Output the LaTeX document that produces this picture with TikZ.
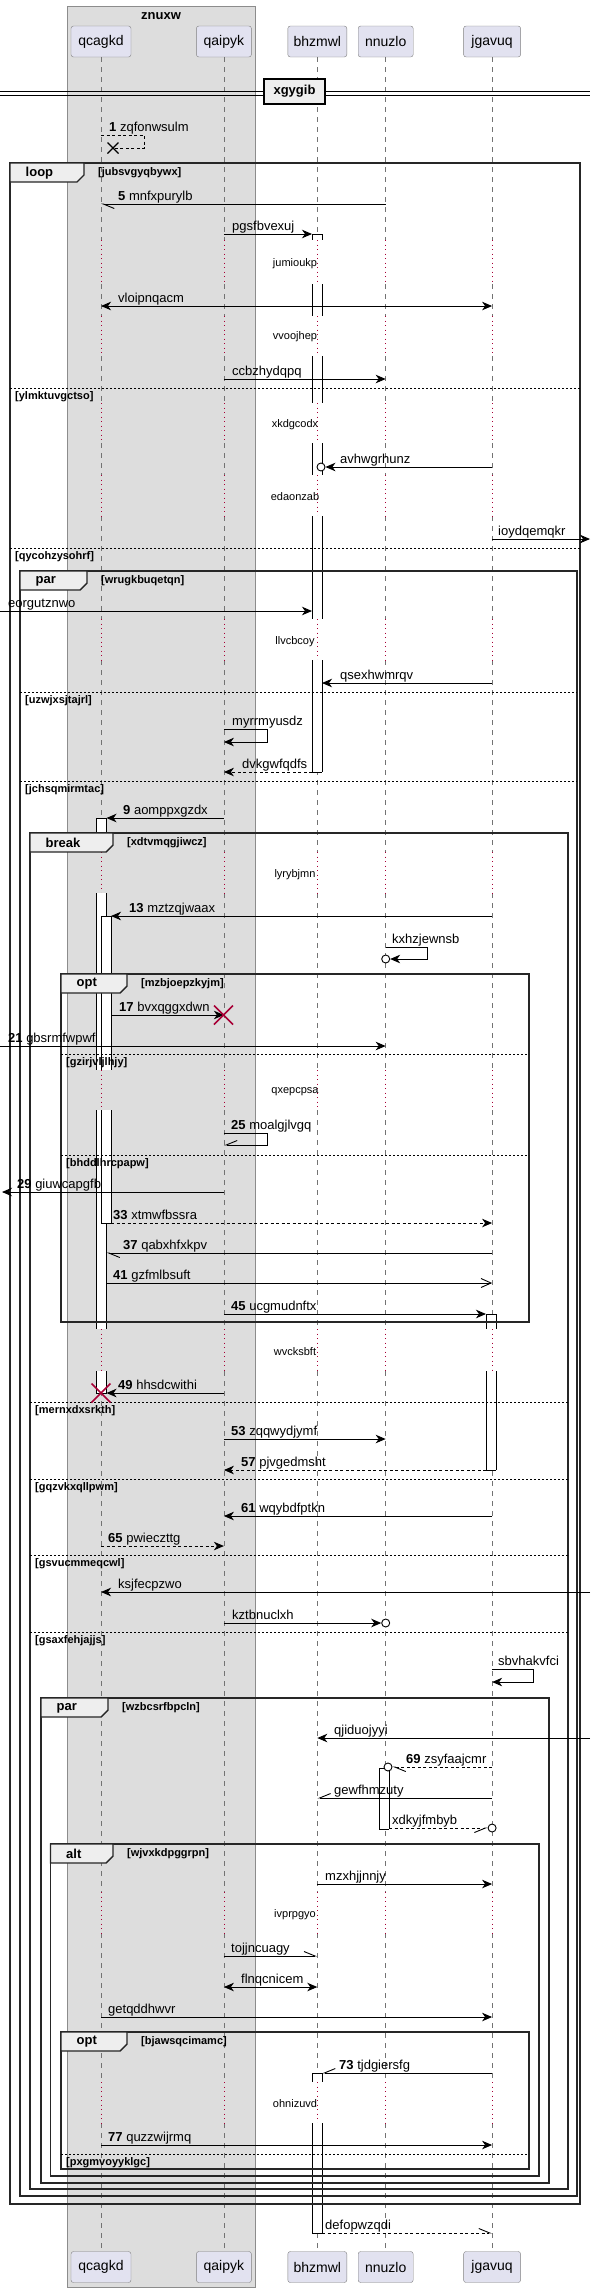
\documentclass[tikz,border=0pt]{standalone}
\usepackage{fontspec}
\setmainfont{Liberation Sans}
\usetikzlibrary{arrows.meta,positioning}
\definecolor{partfill}{HTML}{E2E2F0}
\definecolor{boxfill}{HTML}{DDDDDD}
\definecolor{tabfill}{HTML}{EEEEEE}
\definecolor{delayred}{HTML}{A80036}

\begin{document}
\begin{tikzpicture}[x=1pt,y=-1pt,>={Stealth[length=10pt,width=8.5pt,inset=3pt]}]
    \tikzstyle{every node} = [font=\fontsize{13}{15}\selectfont, inner sep=0pt]
    \tikzstyle{actor} = [draw=black!50, fill=partfill, rounded corners=2.5pt, minimum height=31pt, font=\fontsize{14}{16}\selectfont]
    \tikzstyle{life} = [black!55, dash pattern=on 5pt off 5pt, line width=0.6pt]
    \tikzstyle{delayline} = [delayred, dash pattern=on 1pt off 3.5pt, line width=0.8pt]
    \tikzstyle{delaytext} = [font=\fontsize{11}{13}\selectfont]
    \tikzstyle{msg} = [line width=0.9pt, ->]
    \tikzstyle{rtn} = [msg, dash pattern=on 3pt off 2.5pt]
    \tikzstyle{twoway} = [line width=0.9pt, <->]
    \tikzstyle{halfL} = [-{Straight Barb[left,length=11pt,width=9pt]}]
    \tikzstyle{halfR} = [-{Straight Barb[right,length=11pt,width=9pt]}]
    \tikzstyle{openhead} = [-{Straight Barb[length=10pt,width=9pt]}]
    \tikzstyle{lbl} = [anchor=base west]
    \tikzstyle{frm} = [line width=1.4pt, black!85]
    \tikzstyle{tabshape} = [line width=1.4pt, black!85, fill=tabfill]
    \tikzstyle{tabtext} = [anchor=west, font=\bfseries\fontsize{13}{15}\selectfont]
    \tikzstyle{cond} = [anchor=west, font=\bfseries\fontsize{11}{13}\selectfont]
    \tikzstyle{elseline} = [line width=0.8pt, dash pattern=on 2pt off 2pt]
    \tikzstyle{barside} = [line width=0.9pt]
    \tikzstyle{endc} = [circle, draw, fill=white, line width=0.9pt, minimum size=8pt]
    \tikzstyle{killx} = [delayred, line width=1.6pt]

    \useasboundingbox (0,0) rectangle (590,2292);

    % group box
    \draw[draw=black!45, fill=boxfill] (67,6) rectangle (255,2287);
    \node[font=\bfseries\fontsize{13}{15}\selectfont] (grp) at (161,16) {znuxw};

    % place nodes
    \node[actor, minimum width=60pt] (qcagkd) at (101,41.5) {qcagkd};
    \node[actor, minimum width=55pt, right=65pt of qcagkd] (qaipyk) {qaipyk};
    \node[actor, minimum width=59pt, right=36pt of qaipyk] (bhzmwl) {bhzmwl};
    \node[actor, minimum width=55pt, right=11pt of bhzmwl] (nnuzlo) {nnuzlo};
    \node[actor, minimum width=57pt, right=50pt of nnuzlo] (jgavuq) {jgavuq};
    \foreach \p/\w in {qcagkd/60,qaipyk/55,bhzmwl/59,nnuzlo/55,jgavuq/57}
        \node[actor, minimum width=\w pt] (\p B) at (\p |- 0,2267) {\p};

    % edges and bar sides
    \coordinate (lft) at (0,0);
    \coordinate (rgt) at (590,0);
    \coordinate (bhL) at (312,0);
    \coordinate (bhR) at (322,0);
    \coordinate (qcR1) at (106.5,0);
    \coordinate (qcR2) at (111,0);
    \coordinate (jgL) at (486,0);
    \coordinate (nnR) at (389,0);

    % lifelines
    \foreach \p in {qcagkd,qaipyk,bhzmwl,nnuzlo,jgavuq}{
        \foreach \a/\b in {57/240,284/316,356/403,443/475,516/619,660/852,893/1070,1110/1329,1371/1892,1933/2082,2123/2251}
            \draw[life] (\p |- 0,\a) -- (\p |- 0,\b);
        \foreach \a/\b in {240/284,316/356,403/443,475/516,619/660,852/893,1070/1110,1329/1371,1892/1933,2082/2123}
            \draw[delayline] (\p |- 0,\a) -- (\p |- 0,\b);
    }
    \foreach \t/\y in {jumioukp/264,vvoojhep/337,xkdgcodx/425,edaonzab/497,llvcbcoy/642,lyrybjmn/875,qxepcpsa/1092,wvcksbft/1352,ivprpgyo/1915,ohnizuvd/2104}
        \node[delaytext] (d\t) at (295,\y) {\t};

    % activation bars
    \foreach \xa/\xb/\a/\b in {312/322/234/240, 312/322/284/316, 312/322/356/403, 312/322/443/475, 312/322/516/619, 312/322/660/772,
        96/106.5/818/852, 96/106.5/893/1070, 96/106.5/1110/1329, 96/106.5/1371/1393,
        101/111/916/1070, 101/111/1110/1223,
        486/496/1314/1329, 486/496/1371/1470,
        379/389/1768/1829,
        312/322/2073/2082, 312/322/2123/2233}{
        \fill[white] (\xa,\a) rectangle (\xb,\b);
        \draw[barside] (\xa,\a) -- (\xa,\b) (\xb,\a) -- (\xb,\b);
    }
    \foreach \xa/\xb/\y in {312/322/234, 312/322/772, 96/106.5/818, 96/106.5/1393, 101/111/916, 101/111/1223,
        486/496/1314, 486/496/1470, 379/389/1768, 379/389/1829, 312/322/2073, 312/322/2233}
        \draw[barside] (\xa,\y) -- (\xb,\y);

    % divider
    \draw[line width=0.9pt] (lft |- 0,91) -- (rgt |- 0,91) (lft |- 0,95) -- (rgt |- 0,95);
    \node[draw, line width=1.6pt, fill=tabfill, minimum width=61pt, minimum height=25pt, font=\bfseries\fontsize{13}{15}\selectfont] (sep) at (294.5,91.5) {xgygib};

    % frames
    \foreach \xa/\xb/\ya/\yb/\tx/\kind/\cnd in {10/580/163/2204/84/loop/jubsvgyqbywx, 20/577/571/2196/87/par/wrugkbuqetqn,
        30/568/833/2189/113/break/xdtvmqgjiwcz, 61/529/974/1322/127/opt/mzbjoepzkyjm, 41/549/1698/2183/108/par/wzbcsrfbpcln,
        50.5/539/1844/2176/113/alt/wjvxkdpggrpn, 61/529/2032/2169/127/opt/bjawsqcimamc}{
        \draw[frm] (\xa,\ya) rectangle (\xb,\yb);
        \draw[tabshape] (\xa,\ya) -- (\tx,\ya) -- (\tx,\ya+12) -- (\tx-7,\ya+19) -- (\xa,\ya+19) -- cycle;
        \node[tabtext] (tab\ya) at (\xa+15.5,\ya+10) {\kind};
        \node[cond] (cond\ya) at (\tx+14,\ya+10) {[\cnd]};
    }
    \foreach \xa/\xb/\y/\cnd in {10/580/388/ylmktuvgctso, 10/580/548/qycohzysohrf, 20/577/692/uzwjxsjtajrl, 20/577/781/jchsqmirmtac,
        61/529/1054/gzirjvljlhjy, 61/529/1155/bhddlhrcpapw, 30/568/1402/mernxdxsrkth, 30/568/1479/gqzvkxqllpwm,
        30/568/1555/gsvucmmeqcwl, 30/568/1632/gsaxfehjajjs, 61/529/2154/pxgmvoyyklgc}{
        \draw[elseline] (\xa,\y) -- (\xb,\y);
        \node[cond] (else\y) at (\xa+5,\y+9) {[\cnd]};
    }

    % Connections
    \draw[rtn, -] (qcagkd |- 0,135) -- (144,135) -- (144,148) -- (113,148);
    \draw[line width=1.2pt] (107.5,142.5) -- (118.5,153.5) (107.5,153.5) -- (118.5,142.5);
    \node[lbl] (m1) at (109,131) {\textbf{1} zqfonwsulm};

    \draw[msg, halfL] (nnuzlo |- 0,204) -- (qcagkd |- 0,204);
    \node[lbl] (m5) at (118,200) {\textbf{5} mnfxpurylb};

    \draw[msg] (qaipyk |- 0,234) -- (bhL |- 0,234);
    \node[lbl] (m2) at (232,230) {pgsfbvexuj};

    \draw[twoway] (qcagkd |- 0,306) -- (jgavuq |- 0,306);
    \node[lbl] (m3) at (118,302) {vloipnqacm};

    \draw[msg] (qaipyk |- 0,379) -- (nnuzlo |- 0,379);
    \node[lbl] (m4) at (232,375) {ccbzhydqpq};

    \node[endc] (c1) at (321,467) {};
    \draw[msg] (jgavuq |- 0,467) -- (c1);
    \node[lbl] (m6) at (340,463) {avhwgrhunz};

    \draw[msg] (jgavuq |- 0,539) -- (rgt |- 0,539);
    \node[lbl] (m7) at (498,535) {ioydqemqkr};

    \draw[msg] (lft |- 0,611) -- (bhL |- 0,611);
    \node[lbl] (m8) at (8,607) {eorgutznwo};

    \draw[msg] (jgavuq |- 0,683) -- (bhR |- 0,683);
    \node[lbl] (m9) at (340,679) {qsexhwmrqv};

    \draw[msg] (qaipyk |- 0,729) -- (267,729) -- (267,742) -- (qaipyk |- 0,742);
    \node[lbl] (m10) at (232,725) {myrrmyusdz};

    \draw[rtn] (bhL |- 0,772) -- (qaipyk |- 0,772);
    \node[lbl] (m11) at (242,768) {dvkgwfqdfs};

    \draw[msg] (qaipyk |- 0,818) -- (qcR1 |- 0,818);
    \node[lbl] (m12) at (123,814) {\textbf{9} aomppxgzdx};

    \draw[msg] (jgavuq |- 0,916) -- (qcR2 |- 0,916);
    \node[lbl] (m13) at (129,912) {\textbf{13} mztzqjwaax};

    \node[endc] (c2) at (nnuzlo |- 0,959) {};
    \draw[msg] (nnuzlo |- 0,947) -- (427,947) -- (427,959) -- (c2);
    \node[lbl] (m14) at (392,943) {kxhzjewnsb};

    \draw[msg] (qcR2 |- 0,1015) -- (qaipyk |- 0,1015);
    \draw[killx] (214,1005.5) -- (233,1024.5) (214,1024.5) -- (233,1005.5);
    \node[lbl] (m17) at (119,1011) {\textbf{17} bvxqggxdwn};

    \draw[msg] (lft |- 0,1046) -- (nnuzlo |- 0,1046);
    \node[lbl] (m21) at (8,1042) {\textbf{21} gbsrmfwpwf};

    \draw[msg, halfR] (qaipyk |- 0,1133) -- (267,1133) -- (267,1145) -- (qaipyk |- 0,1145);
    \node[lbl] (m25) at (231,1129) {\textbf{25} moalgjlvgq};

    \draw[msg] (qaipyk |- 0,1192) -- (2,1192);
    \node[lbl] (m29) at (17,1188) {\textbf{29} giuwcapgfb};

    \draw[rtn] (qcR2 |- 0,1223) -- (jgavuq |- 0,1223);
    \node[lbl] (m33) at (113,1219) {\textbf{33} xtmwfbssra};

    \draw[msg, halfL] (jgavuq |- 0,1253) -- (qcR1 |- 0,1253);
    \node[lbl] (m37) at (123,1249) {\textbf{37} qabxhfxkpv};

    \draw[msg, openhead] (qcR1 |- 0,1283) -- (jgavuq |- 0,1283);
    \node[lbl] (m41) at (113,1279) {\textbf{41} gzfmlbsuft};

    \draw[msg] (qaipyk |- 0,1314) -- (jgL |- 0,1314);
    \node[lbl] (m45) at (231,1310) {\textbf{45} ucgmudnftx};

    \draw[msg] (qaipyk |- 0,1393) -- (qcR1 |- 0,1393);
    \draw[killx] (91.5,1383.5) -- (110.5,1402.5) (91.5,1402.5) -- (110.5,1383.5);
    \node[lbl] (m49) at (118,1389) {\textbf{49} hhsdcwithi};

    \draw[msg] (qaipyk |- 0,1439) -- (nnuzlo |- 0,1439);
    \node[lbl] (m53) at (231,1435) {\textbf{53} zqqwydjymf};

    \draw[rtn] (jgL |- 0,1470) -- (qaipyk |- 0,1470);
    \node[lbl] (m57) at (241,1466) {\textbf{57} pjvgedmsht};

    \draw[msg] (jgavuq |- 0,1516) -- (qaipyk |- 0,1516);
    \node[lbl] (m61) at (241,1512) {\textbf{61} wqybdfptkn};

    \draw[rtn] (qcagkd |- 0,1546) -- (qaipyk |- 0,1546);
    \node[lbl] (m65) at (108,1542) {\textbf{65} pwieczttg};

    \draw[msg] (rgt |- 0,1592) -- (qcagkd |- 0,1592);
    \node[lbl] (m66) at (118,1588) {ksjfecpzwo};

    \node[endc] (c3) at (nnuzlo |- 0,1623) {};
    \draw[msg] (qaipyk |- 0,1623) -- (c3);
    \node[lbl] (m67) at (232,1619) {kztbnuclxh};

    \draw[msg] (jgavuq |- 0,1669) -- (533,1669) -- (533,1682) -- (jgavuq |- 0,1682);
    \node[lbl] (m68) at (498,1665) {sbvhakvfci};

    \draw[msg] (rgt |- 0,1738) -- (bhzmwl |- 0,1738);
    \node[lbl] (m70) at (334,1734) {qjiduojyyi};

    \node[endc] (c4) at (388,1767) {};
    \draw[rtn, halfL] (jgavuq |- 0,1767) -- (c4);
    \node[lbl] (m69) at (406,1763) {\textbf{69} zsyfaajcmr};

    \draw[msg, halfR] (jgavuq |- 0,1798) -- (bhzmwl |- 0,1798);
    \node[lbl] (m71) at (334,1794) {gewfhmzuty};

    \node[endc] (c5) at (jgavuq |- 0,1828) {};
    \draw[rtn, halfR] (nnR |- 0,1828) -- (c5);
    \node[lbl] (m72) at (392,1824) {xdkyjfmbyb};

    \draw[msg] (bhzmwl |- 0,1884) -- (jgavuq |- 0,1884);
    \node[lbl] (m74) at (325,1880) {mzxhjjnnjy};

    \draw[msg, halfL] (qaipyk |- 0,1956) -- (bhzmwl |- 0,1956);
    \node[lbl] (m75) at (231,1952) {tojjncuagy};

    \draw[twoway] (qaipyk |- 0,1987) -- (bhzmwl |- 0,1987);
    \node[lbl] (m76) at (241,1983) {flnqcnicem};

    \draw[msg] (qcagkd |- 0,2017) -- (jgavuq |- 0,2017);
    \node[lbl] (m78) at (108,2013) {getqddhwvr};

    \draw[msg, halfR] (jgavuq |- 0,2073) -- (bhR |- 0,2073);
    \node[lbl] (m73) at (339,2069) {\textbf{73} tjdgiersfg};

    \draw[msg] (qcagkd |- 0,2145) -- (jgavuq |- 0,2145);
    \node[lbl] (m77) at (108,2141) {\textbf{77} quzzwijrmq};

    \draw[rtn, halfL] (bhR |- 0,2233) -- (jgavuq |- 0,2233);
    \node[lbl] (m79) at (325,2229) {defopwzqdi};
\end{tikzpicture}
\end{document}
